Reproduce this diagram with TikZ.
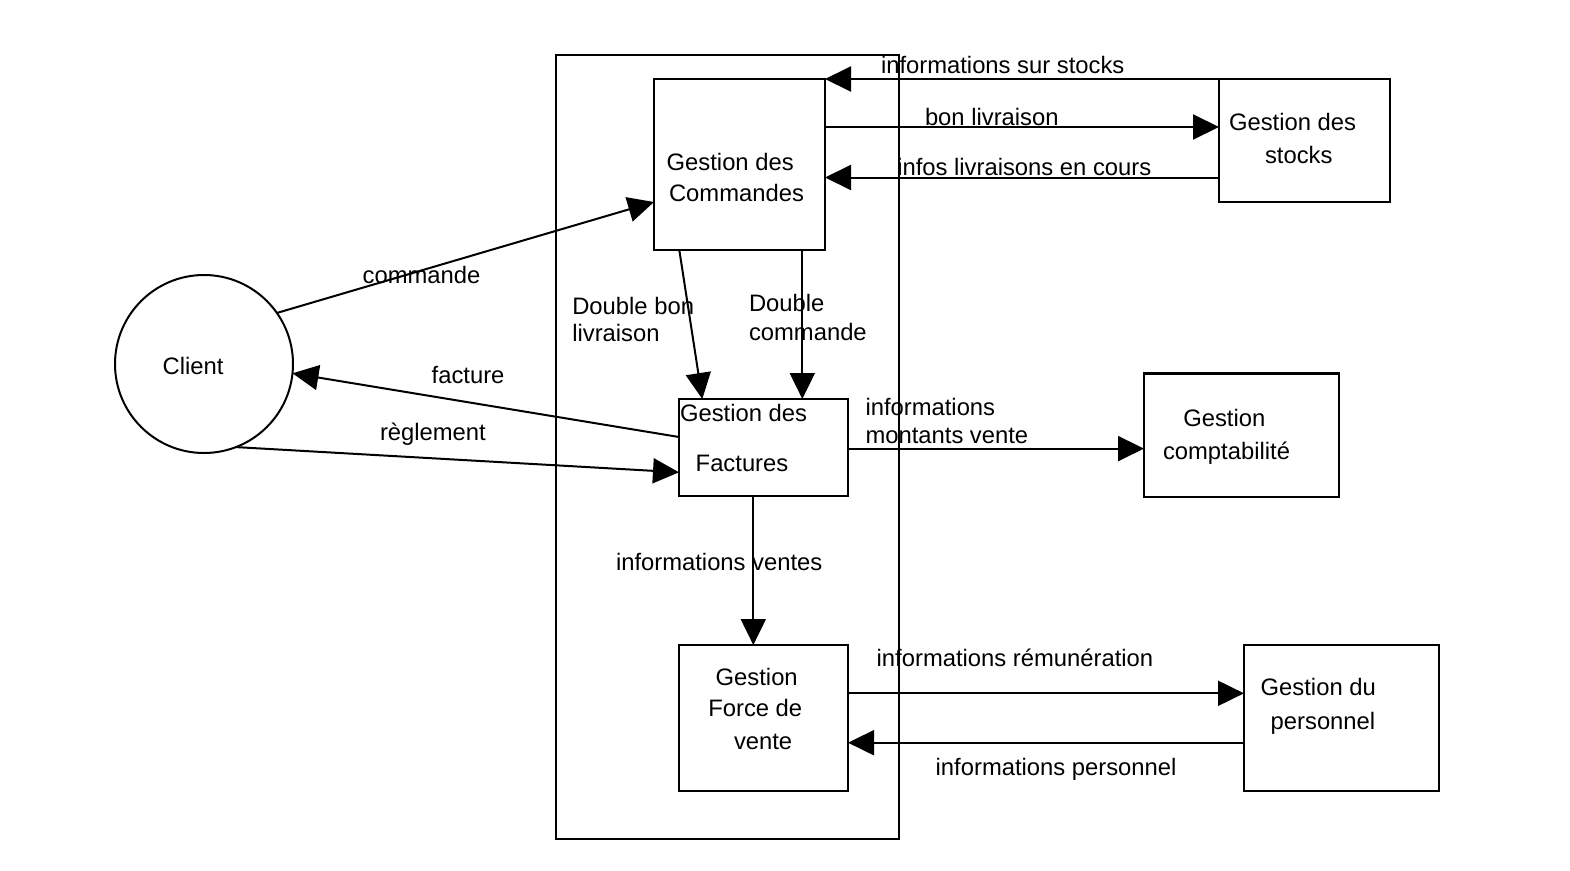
\documentclass[tikz,border=0pt]{standalone}
\usepackage{fontspec}
\setmainfont{Liberation Sans}
\usetikzlibrary{arrows.meta,calc}
\begin{document}
\begin{tikzpicture}[x=1pt,y=-1pt,
  box/.style={draw,line width=2.2pt,rectangle,inner sep=0pt,outer sep=0pt},
  txt/.style={anchor=base west,inner sep=0pt,outer sep=0pt,font=\fontsize{23.8}{31}\selectfont},
  flow/.style={line width=2pt,-{Triangle[length=26pt,width=25pt]}}]
\useasboundingbox (0,0) rectangle (1570,870);
% boxes
\node[box,minimum width=343pt,minimum height=784pt] (sys) at (727.5,447) {};
\node[box,minimum width=171pt,minimum height=171pt] (cmd) at (739.5,164.5) {};
\node[box,minimum width=171pt,minimum height=123pt] (stk) at (1304.5,140.5) {};
\node[box,minimum width=169pt,minimum height=97pt] (fac) at (763.5,447.5) {};
\node[box,minimum width=195pt,minimum height=123.5pt] (cpt) at (1241.5,435.25) {};
\node[box,minimum width=169pt,minimum height=146pt] (frc) at (763.5,718) {};
\node[box,minimum width=195pt,minimum height=146pt] (per) at (1341.5,718) {};
\node[draw,line width=2pt,circle,minimum size=178pt,inner sep=0pt,outer sep=0pt] (client) at (204,364) {};
% helper coordinates
\coordinate (yb) at (0,127);
\coordinate (yi) at (0,177.5);
\coordinate (yc) at (0,202);
\coordinate (yf) at (0,437);
\coordinate (yr) at (0,472.3);
\coordinate (xd) at (802.3,0);
\coordinate (ym) at (0,448.6);
\coordinate (xv) at (753.3,0);
\coordinate (yrem) at (0,693.3);
\coordinate (yp) at (0,742.7);
% connectors
\draw[flow] (stk.north west) -- (cmd.north east);
\draw[flow] (cmd.east |- yb) -- (stk.west |- yb);
\draw[flow] (stk.west |- yi) -- (cmd.east |- yi);
\draw[flow] (client.35) -- (cmd.west |- yc);
\draw[flow] (fac.west |- yf) -- (client.-6);
\draw[flow] (client.-69.5) -- (fac.west |- yr);
\draw[flow] ([xshift=25.3pt]cmd.south west) -- ([xshift=23.3pt]fac.north west);
\draw[flow] (cmd.south -| xd) -- (fac.north -| xd);
\draw[flow] (fac.east |- ym) -- (cpt.west |- ym);
\draw[flow] (fac.south -| xv) -- (frc.north -| xv);
\draw[flow] (frc.east |- yrem) -- (per.west |- yrem);
\draw[flow] (per.west |- yp) -- (frc.east |- yp);
% box texts
\node[txt] (cmd1) at (666.7,170.7) {Gestion des};
\node[txt] (cmd2) at (669,201.7) {Commandes};
\node[txt] (stk1) at (1229,130) {Gestion des};
\node[txt] (stk2) at (1265,163.3) {stocks};
\node[txt] (cpt1) at (1183.3,426) {Gestion};
\node[txt] (cpt2) at (1163,459.7) {comptabilité};
\node[txt] (fac1) at (680,421.7) {Gestion des};
\node[txt] (fac2) at (695.7,471.7) {Factures};
\node[txt] (frc1) at (715.7,685) {Gestion};
\node[txt] (frc2) at (708.3,716) {Force de};
\node[txt] (frc3) at (734,749.3) {vente};
\node[txt] (per1) at (1260.7,695) {Gestion du};
\node[txt] (per2) at (1270.7,729.3) {personnel};
\node[txt] (cli) at (162.7,374.3) {Client};
% flow labels
\node[txt] (l1) at (881,73.3) {informations sur stocks};
\node[txt] (l2) at (925,125) {bon livraison};
\node[txt] (l3) at (897.3,175) {infos livraisons en cours};
\node[txt] (l4) at (362.7,283.3) {commande};
\node[txt] (l5) at (431.7,383.3) {facture};
\node[txt] (l6) at (380,440) {règlement};
\node[txt] (l7a) at (572.3,314) {Double bon};
\node[txt] (l7b) at (572.3,341.7) {livraison};
\node[txt] (l8a) at (749,311.7) {Double};
\node[txt] (l8b) at (749,340) {commande};
\node[txt] (l9a) at (865.5,415) {informations};
\node[txt] (l9b) at (865.5,443.5) {montants vente};
\node[txt] (l10) at (616,570) {informations ventes};
\node[txt] (l11) at (876.7,666.7) {informations rémunération};
\node[txt] (l12) at (935.7,775) {informations personnel};
\end{tikzpicture}
\end{document}
